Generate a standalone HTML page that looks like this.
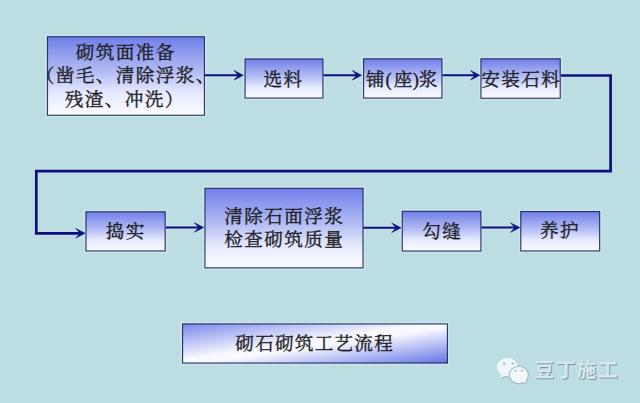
<!DOCTYPE html>
<html lang="zh-CN">
<head>
<meta charset="utf-8">
<title>砌石砌筑工艺流程</title>
<style>
html,body{margin:0;padding:0;background:#bcdde2;}
body{width:640px;height:403px;overflow:hidden;position:relative;font-family:"Liberation Sans",sans-serif;}
svg{position:absolute;left:0;top:0;display:block;}
.t{position:absolute;color:transparent;font-size:8px;line-height:10px;overflow:hidden;text-align:center;white-space:nowrap;user-select:none;}
</style>
</head>
<body>
<svg width="640" height="403" viewBox="0 0 640 403">
<defs>
<linearGradient id="gv" x1="0" y1="0" x2="0" y2="1">
<stop offset="0" stop-color="#6f7fe8"/><stop offset="0.45" stop-color="#b4bdf4"/><stop offset="0.72" stop-color="#e6eaff"/><stop offset="1" stop-color="#fbfcff"/>
</linearGradient>
<linearGradient id="gd" x1="0" y1="0" x2="1" y2="1">
<stop offset="0" stop-color="#7a88eb"/><stop offset="0.46" stop-color="#f8f9ff"/><stop offset="0.54" stop-color="#f8f9ff"/><stop offset="1" stop-color="#6474e6"/>
</linearGradient>
</defs>
<rect width="640" height="403" fill="#bcdde2"/>
<g opacity="0.55"><path d="M561 75.5 H610.6 V171.1 H36.3 V233.3 H84" stroke="#c9dcf6" stroke-width="5.1" fill="none" stroke-linejoin="round"/>
<path d="M204.5 75.3 H243.3" stroke="#c9dcf6" stroke-width="4.4" fill="none"/>
<path d="M323.5 75.3 H361.6" stroke="#c9dcf6" stroke-width="4.4" fill="none"/>
<path d="M442.5 75.3 H479.8" stroke="#c9dcf6" stroke-width="4.4" fill="none"/>
<path d="M165.75 227.5 H203.6" stroke="#c9dcf6" stroke-width="4.4" fill="none"/>
<path d="M363.25 227.8 H401" stroke="#c9dcf6" stroke-width="4.4" fill="none"/>
<path d="M481.25 227.6 H519.8" stroke="#c9dcf6" stroke-width="4.4" fill="none"/>
<rect x="46.00" y="35.30" width="159.90" height="81.40" fill="none" stroke="#d4e8f4" stroke-width="1.8"/>
<rect x="243.60" y="57.50" width="80.80" height="42.00" fill="none" stroke="#d4e8f4" stroke-width="1.8"/>
<rect x="362.10" y="57.35" width="81.30" height="42.15" fill="none" stroke="#d4e8f4" stroke-width="1.8"/>
<rect x="479.50" y="57.35" width="82.20" height="42.35" fill="none" stroke="#d4e8f4" stroke-width="1.8"/>
<rect x="84.50" y="210.35" width="82.15" height="42.05" fill="none" stroke="#d4e8f4" stroke-width="1.8"/>
<rect x="203.50" y="186.90" width="161.00" height="82.40" fill="none" stroke="#d4e8f4" stroke-width="1.8"/>
<rect x="400.80" y="209.85" width="81.60" height="42.65" fill="none" stroke="#d4e8f4" stroke-width="1.8"/>
<rect x="519.30" y="210.10" width="81.80" height="42.30" fill="none" stroke="#d4e8f4" stroke-width="1.8"/>
<rect x="181.10" y="322.50" width="267.80" height="42.00" fill="none" stroke="#d4e8f4" stroke-width="1.8"/></g>
<path d="M561 75.5 H610.6 V171.1 H36.3 V233.3 H81" stroke="#0c0f78" stroke-width="2.7" fill="none" stroke-linejoin="miter"/><path d="M85.00 233.30 L75.80 228.60 L80.20 233.30 L75.80 238.00 Z" fill="#0c0f78" stroke="#0c0f78" stroke-width="0.6" stroke-linejoin="miter"/>
<path d="M204.5 75.3 H239.3" stroke="#0c0f78" stroke-width="2.0" fill="none"/><path d="M243.30 75.30 L234.10 70.60 L238.50 75.30 L234.10 80.00 Z" fill="#0c0f78" stroke="#0c0f78" stroke-width="0.6" stroke-linejoin="miter"/>
<path d="M323.5 75.3 H357.6" stroke="#0c0f78" stroke-width="2.0" fill="none"/><path d="M361.60 75.30 L352.40 70.60 L356.80 75.30 L352.40 80.00 Z" fill="#0c0f78" stroke="#0c0f78" stroke-width="0.6" stroke-linejoin="miter"/>
<path d="M442.5 75.3 H475.8" stroke="#0c0f78" stroke-width="2.0" fill="none"/><path d="M479.80 75.30 L470.60 70.60 L475.00 75.30 L470.60 80.00 Z" fill="#0c0f78" stroke="#0c0f78" stroke-width="0.6" stroke-linejoin="miter"/>
<path d="M165.75 227.5 H199.6" stroke="#0c0f78" stroke-width="2.0" fill="none"/><path d="M203.60 227.50 L194.40 222.80 L198.80 227.50 L194.40 232.20 Z" fill="#0c0f78" stroke="#0c0f78" stroke-width="0.6" stroke-linejoin="miter"/>
<path d="M363.25 227.8 H397" stroke="#0c0f78" stroke-width="2.0" fill="none"/><path d="M401.00 227.80 L391.80 223.10 L396.20 227.80 L391.80 232.50 Z" fill="#0c0f78" stroke="#0c0f78" stroke-width="0.6" stroke-linejoin="miter"/>
<path d="M481.25 227.6 H515.8" stroke="#0c0f78" stroke-width="2.0" fill="none"/><path d="M519.80 227.60 L510.60 222.90 L515.00 227.60 L510.60 232.30 Z" fill="#0c0f78" stroke="#0c0f78" stroke-width="0.6" stroke-linejoin="miter"/>
<rect x="47.48" y="36.78" width="156.95" height="78.45" fill="url(#gv)" stroke="#182058" stroke-opacity="0.88" stroke-width="1.15"/>
<rect x="245.07" y="58.98" width="77.85" height="39.05" fill="url(#gv)" stroke="#182058" stroke-opacity="0.88" stroke-width="1.15"/>
<rect x="363.57" y="58.83" width="78.35" height="39.20" fill="url(#gv)" stroke="#182058" stroke-opacity="0.88" stroke-width="1.15"/>
<rect x="480.97" y="58.83" width="79.25" height="39.40" fill="url(#gv)" stroke="#182058" stroke-opacity="0.88" stroke-width="1.15"/>
<rect x="85.98" y="211.82" width="79.20" height="39.10" fill="url(#gv)" stroke="#182058" stroke-opacity="0.88" stroke-width="1.15"/>
<rect x="204.97" y="188.38" width="158.05" height="79.45" fill="url(#gv)" stroke="#182058" stroke-opacity="0.88" stroke-width="1.15"/>
<rect x="402.27" y="211.32" width="78.65" height="39.70" fill="url(#gv)" stroke="#182058" stroke-opacity="0.88" stroke-width="1.15"/>
<rect x="520.78" y="211.57" width="78.85" height="39.35" fill="url(#gv)" stroke="#182058" stroke-opacity="0.88" stroke-width="1.15"/>
<rect x="182.57" y="323.97" width="264.85" height="39.05" fill="url(#gd)" stroke="#182058" stroke-opacity="0.88" stroke-width="1.15"/>
<g fill="#1c1c24" stroke="#1c1c24" stroke-width="0.35" font-family="&quot;Liberation Serif&quot;, &quot;Noto Serif CJK SC&quot;, serif" font-size="18.6" letter-spacing="1.4">
<text x="75.8" y="59">砌筑面准备</text>
<text x="35.7" y="82.2">（凿毛、清除浮浆、</text>
<text x="64.7" y="105.8">残渣、冲洗）</text>
<text x="263.5" y="85.8">选料</text>
<text x="481.2" y="85.8">安装石料</text>
<text x="105.7" y="238">捣实</text>
<text x="224.2" y="222.6">清除石面浮浆</text>
<text x="224.2" y="246.4">检查砌筑质量</text>
<text x="422.2" y="238.2">勾缝</text>
<text x="539.9" y="237.3">养护</text>
<text x="235.3" y="349.9" letter-spacing="1.25">砌石砌筑工艺流程</text>
<text x="366 385.5 393.7 412.7 418.7" y="86.2" letter-spacing="0">铺(座)浆</text>
</g>

<g>
 <g fill="#93a9b1" transform="translate(0.8 0.8)">
  <ellipse cx="507.4" cy="367.1" rx="10.6" ry="9.3"/>
  <path d="M501 374 L500.2 378.3 L505 376 Z"/>
  <ellipse cx="518.8" cy="375" rx="9.0" ry="8.2"/>
  <path d="M522.5 381 L526.4 383.2 L525.6 379.5 Z"/>
 </g>
 <g fill="#edf6f8">
  <ellipse cx="507.4" cy="367.1" rx="10.6" ry="9.3"/>
  <path d="M501 374 L500.2 378.3 L505 376 Z"/>
 </g>
 <ellipse cx="518.8" cy="375" rx="10.1" ry="9.3" fill="#a6bac2"/>
 <g fill="#f1f8fa">
  <ellipse cx="518.8" cy="375" rx="9.0" ry="8.2"/>
  <path d="M522.5 381 L526.4 383.2 L525.6 379.5 Z"/>
 </g>
 <g fill="#9db1b9">
  <circle cx="504.1" cy="363.6" r="1.15"/><circle cx="512.7" cy="363.6" r="1.15"/>
  <circle cx="515.4" cy="370.8" r="1.0"/><circle cx="521.9" cy="370.8" r="1.0"/>
 </g>
</g>
<g font-family="&quot;Liberation Sans&quot;, &quot;Noto Sans CJK SC&quot;, sans-serif" font-size="19.5" font-weight="bold" letter-spacing="1.65">
<text x="535.5" y="378.4" fill="#7e98a1">豆丁施工</text>
<text x="534.5" y="377.4" fill="#d6e8ed">豆丁施工</text>
</g>
</svg>
<div class="t" style="left:46px;top:36px;width:158px;height:79px">砌筑面准备<br>（凿毛、清除浮浆、<br>残渣、冲洗）</div>
<div class="t" style="left:244px;top:58px;width:79px;height:40px">选料</div>
<div class="t" style="left:363px;top:58px;width:79px;height:40px">铺(座)浆</div>
<div class="t" style="left:481px;top:58px;width:80px;height:40px">安装石料</div>
<div class="t" style="left:86px;top:211px;width:80px;height:40px">捣实</div>
<div class="t" style="left:205px;top:187px;width:158px;height:80px">清除石面浮浆<br>检查砌筑质量</div>
<div class="t" style="left:402px;top:211px;width:79px;height:40px">勾缝</div>
<div class="t" style="left:521px;top:211px;width:79px;height:40px">养护</div>
<div class="t" style="left:182px;top:323px;width:265px;height:40px">砌石砌筑工艺流程</div>
<div class="t" style="left:535px;top:360px;width:84px;height:22px">豆丁施工</div>
</body>
</html>
